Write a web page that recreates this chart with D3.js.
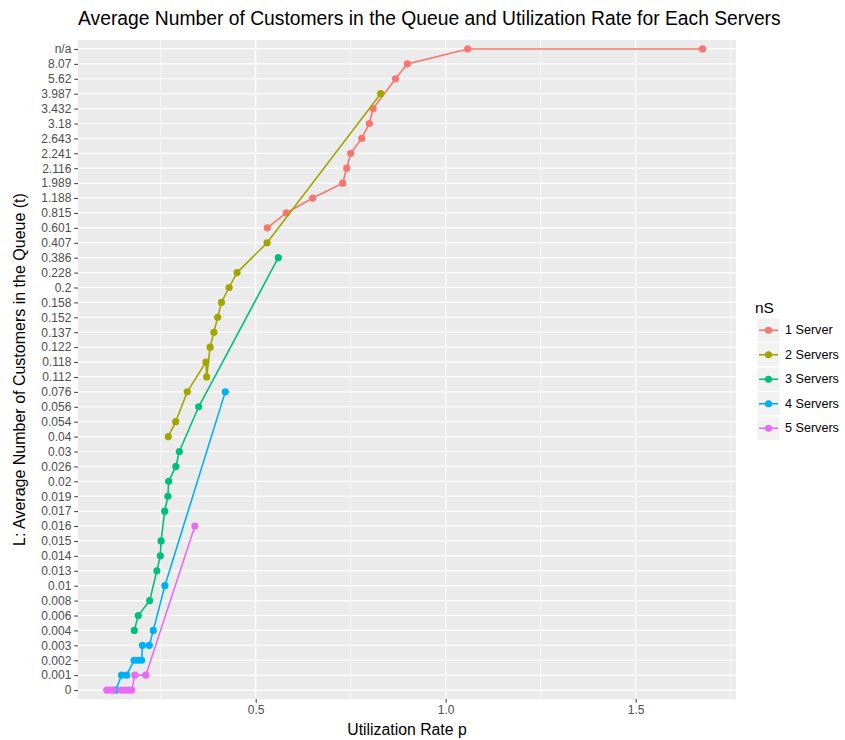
<!DOCTYPE html>
<html>
<head>
<meta charset="utf-8">
<script src="https://cdn.jsdelivr.net/npm/d3@7"></script>
<style>
  body { margin: 0; background: #fff; }
  text { font-family: "Liberation Sans", Arial, sans-serif; }
</style>
</head>
<body>
<svg id="chart" width="845" height="740"></svg>
<script>
// Y categories (discrete, bottom to top)
const yCategories = ["0","0.001","0.002","0.003","0.004","0.006","0.008","0.01","0.013","0.014","0.015","0.016","0.017","0.019","0.02","0.026","0.03","0.04","0.054","0.056","0.076","0.112","0.118","0.122","0.137","0.152","0.158","0.2","0.228","0.386","0.407","0.601","0.815","1.188","1.989","2.116","2.241","2.643","3.18","3.432","3.987","5.62","8.07","n/a"];

const seriesNames = ["1 Server","2 Servers","3 Servers","4 Servers","5 Servers"];
const seriesColors = ["#F8766D","#A3A500","#00BF7D","#00B0F6","#E76BF3"];

// Utilization rate (x) and queue length category (y) per series
const s1X = [0.5305,0.5805,0.650,0.729,0.7395,0.750,0.779,0.799,0.809,0.868,0.899,1.058,1.676];
const s1Y = ["0.601","0.815","1.188","1.989","2.116","2.241","2.643","3.18","3.432","5.62","8.07","n/a","n/a"];

const s2X = [0.270,0.2895,0.320,0.369,0.371,0.380,0.390,0.400,0.410,0.430,0.451,0.530,0.829];
const s2Y = ["0.04","0.054","0.076","0.118","0.112","0.122","0.137","0.152","0.158","0.2","0.228","0.407","3.987"];

const s3X = [0.1805,0.191,0.221,0.240,0.249,0.251,0.2605,0.269,0.271,0.290,0.299,0.350,0.5595];
const s3Y = ["0.004","0.006","0.008","0.013","0.014","0.015","0.017","0.019","0.02","0.026","0.03","0.056","0.386"];

const s4X = [0.132,0.147,0.1605,0.180,0.190,0.200,0.202,0.220,0.2305,0.261,0.420];
const s4Y = ["0","0.001","0.001","0.002","0.002","0.002","0.003","0.003","0.004","0.01","0.076"];

const s5X = [0.108,0.1166,0.125,0.147,0.156,0.165,0.174,0.182,0.211,0.340];
const s5Y = ["0","0","0","0","0","0","0","0.001","0.001","0.016"];

const xMajorTicks = [0.5, 1.0, 1.5];
const xMinorTicks = [0.25, 0.75, 1.25, 1.75];

const series = [
  {name: seriesNames[0], color: seriesColors[0], x: s1X, y: s1Y},
  {name: seriesNames[1], color: seriesColors[1], x: s2X, y: s2Y},
  {name: seriesNames[2], color: seriesColors[2], x: s3X, y: s3Y},
  {name: seriesNames[3], color: seriesColors[3], x: s4X, y: s4Y},
  {name: seriesNames[4], color: seriesColors[4], x: s5X, y: s5Y}
];

const svg = d3.select("#chart");
const panel = {left: 78, right: 736, top: 40, bottom: 699};

const x = d3.scaleLinear().domain([0.0324, 1.764]).range([panel.left, panel.right]);
const y = d3.scalePoint().domain(yCategories).range([panel.bottom, panel.top]).padding(0.6);

// Panel background
svg.append("rect")
  .attr("x", panel.left).attr("y", panel.top)
  .attr("width", panel.right - panel.left).attr("height", panel.bottom - panel.top)
  .attr("fill", "#EBEBEB");

// Minor grid
svg.append("g").selectAll("line").data(xMinorTicks).join("line")
  .attr("x1", d => x(d)).attr("x2", d => x(d))
  .attr("y1", panel.top).attr("y2", panel.bottom)
  .attr("stroke", "#fff").attr("stroke-width", 0.6);

// Major grid
svg.append("g").selectAll("line").data(xMajorTicks).join("line")
  .attr("x1", d => x(d)).attr("x2", d => x(d))
  .attr("y1", panel.top).attr("y2", panel.bottom)
  .attr("stroke", "#fff").attr("stroke-width", 1.2);
svg.append("g").selectAll("line").data(yCategories).join("line")
  .attr("x1", panel.left).attr("x2", panel.right)
  .attr("y1", d => y(d)).attr("y2", d => y(d))
  .attr("stroke", "#fff").attr("stroke-width", 1.2);

// Axes
const xAxis = d3.axisBottom(x).tickValues(xMajorTicks).tickFormat(d3.format(".1f")).tickSize(3.7).tickPadding(3);
const gx = svg.append("g").attr("transform", `translate(0,${panel.bottom})`).call(xAxis);
gx.select(".domain").remove();
gx.selectAll(".tick line").attr("stroke", "#333");
gx.selectAll(".tick text").attr("fill", "#4D4D4D").style("font-size", "12px").style("font-family", "Liberation Sans, Arial, sans-serif");

const yAxis = d3.axisLeft(y).tickSize(3.7).tickPadding(3);
const gy = svg.append("g").attr("transform", `translate(${panel.left},0)`).call(yAxis);
gy.select(".domain").remove();
gy.selectAll(".tick line").attr("stroke", "#333");
gy.selectAll(".tick text").attr("fill", "#4D4D4D").style("font-size", "12px").style("font-family", "Liberation Sans, Arial, sans-serif");

// Lines and points
const line = d3.line().x(d => x(d[0])).y(d => y(d[1]));
series.forEach(s => {
  const pts = s.x.map((v, i) => [v, s.y[i]]);
  svg.append("path").datum(pts)
    .attr("d", line).attr("fill", "none")
    .attr("stroke", s.color).attr("stroke-width", 1.6);
  svg.append("g").selectAll("circle").data(pts).join("circle")
    .attr("cx", d => x(d[0])).attr("cy", d => y(d[1]))
    .attr("r", 3.6).attr("fill", s.color);
});

// Titles
svg.append("text")
  .attr("x", panel.left).attr("y", 25)
  .attr("fill", "#000").style("font-size", "19.3px")
  .text("Average Number of Customers in the Queue and Utilization Rate for Each Servers");

svg.append("text")
  .attr("x", (panel.left + panel.right) / 2).attr("y", 735)
  .attr("text-anchor", "middle").attr("fill", "#000").style("font-size", "15.8px")
  .text("Utilization Rate p");

svg.append("text")
  .attr("transform", `translate(25,${(panel.top + panel.bottom) / 2}) rotate(-90)`)
  .attr("text-anchor", "middle").attr("fill", "#000").style("font-size", "16px")
  .text("L: Average Number of Customers in the Queue (t)");

// Legend
const lg = svg.append("g").attr("transform", "translate(755,0)");
lg.append("text").attr("x", 0).attr("y", 313).style("font-size", "15.5px").attr("fill", "#000").text("nS");
const keyTop = 318, keyH = 24.5, keyW = 23;
series.forEach((s, i) => {
  const ky = keyTop + i * keyH;
  lg.append("rect").attr("x", 2).attr("y", ky).attr("width", keyW).attr("height", keyH)
    .attr("fill", "#F2F2F2").attr("stroke", "#fff").attr("stroke-width", 1);
  lg.append("line").attr("x1", 4).attr("x2", keyW).attr("y1", ky + keyH / 2).attr("y2", ky + keyH / 2)
    .attr("stroke", s.color).attr("stroke-width", 1.6);
  lg.append("circle").attr("cx", 2 + keyW / 2).attr("cy", ky + keyH / 2).attr("r", 3.6).attr("fill", s.color);
  lg.append("text").attr("x", 30).attr("y", ky + keyH / 2 + 4).style("font-size", "12.6px").attr("fill", "#000").text(s.name);
});
</script>
</body>
</html>
